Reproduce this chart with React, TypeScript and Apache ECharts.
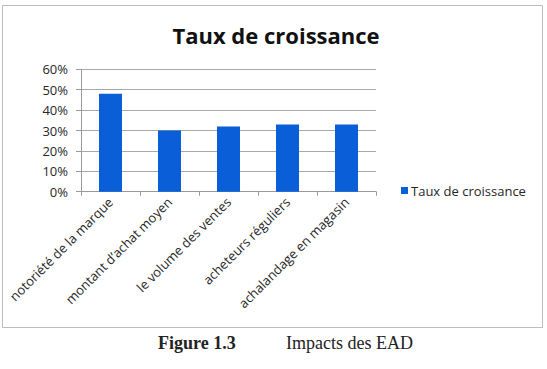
import React, { useEffect, useRef } from "react";
import * as echarts from "echarts";

const categories = [
  "notoriété de la marque",
  "montant d’achat moyen",
  "le volume des ventes",
  "acheteurs réguliers",
  "achalandage en magasin",
];
const values = [0.48, 0.3, 0.32, 0.33, 0.33];
const seriesName = "Taux de croissance";
const chartTitle = "Taux de croissance";
const captionNumber = "Figure 1.3";
const captionText = "Impacts des EAD";

export default function App() {
  const ref = useRef<HTMLDivElement>(null);
  useEffect(() => {
    if (!ref.current) return;
    const chart = echarts.init(ref.current, null, { renderer: "svg" });
    const font = "'Open Sans', 'Noto Sans', sans-serif";
    chart.setOption({
      animation: false,
      backgroundColor: "#ffffff",
      title: {
        text: chartTitle,
        left: 271,
        textAlign: "center",
        top: 19,
        textStyle: { fontFamily: font, fontSize: 22, fontWeight: "bold", color: "#111" },
      },
      legend: {
        left: 401,
        top: 184,
        padding: 0,
        itemWidth: 7,
        itemHeight: 7,
        icon: "rect",
        textStyle: { fontFamily: font, fontSize: 13, color: "#262626", padding: [0, 0, 0, -2] },
        data: [seriesName],
      },
      grid: { left: 81, right: 171, top: 69.3, bottom: 177.3, containLabel: false },
      xAxis: {
        type: "category",
        data: categories,
        axisLine: { lineStyle: { color: "#999" } },
        axisTick: { show: true, length: 4, lineStyle: { color: "#999" } },
        axisLabel: {
          rotate: 45,
          interval: 0,
          margin: 8,
          fontFamily: font,
          fontSize: 13,
          color: "#262626",
        },
      },
      yAxis: {
        type: "value",
        min: 0,
        max: 0.6,
        interval: 0.1,
        axisLine: { show: true, lineStyle: { color: "#999" } },
        axisTick: { show: true, length: 5, lineStyle: { color: "#999" } },
        splitLine: { lineStyle: { color: "#a8a8a8" } },
        axisLabel: {
          margin: 13,
          fontFamily: font,
          fontSize: 13,
          color: "#262626",
          formatter: (v: number) => Math.round(v * 100) + "%",
        },
      },
      series: [
        {
          name: seriesName,
          type: "bar",
          data: values,
          barWidth: "39%",
          itemStyle: { color: "#0a5fd8" },
        },
      ],
      graphic: [
        {
          type: "rect",
          shape: { x: 2.5, y: 5.5, width: 540, height: 322 },
          style: { fill: "none", stroke: "#bdbdbd", lineWidth: 1 },
          silent: true,
        },
        {
          type: "text",
          x: 158,
          y: 352,
          style: {
            text: captionNumber,
            font: "bold 18px 'Liberation Serif', 'Times New Roman', serif",
            fill: "#222",
            textVerticalAlign: "bottom",
          },
        },
        {
          type: "text",
          x: 286,
          y: 352,
          style: {
            text: captionText,
            font: "18px 'Liberation Serif', 'Times New Roman', serif",
            fill: "#222",
            textVerticalAlign: "bottom",
          },
        },
      ],
    });
    return () => chart.dispose();
  }, []);
  return (
    <div
      ref={ref}
      style={{ position: "fixed", left: 0, top: 0, width: 547, height: 369 }}
    />
  );
}
